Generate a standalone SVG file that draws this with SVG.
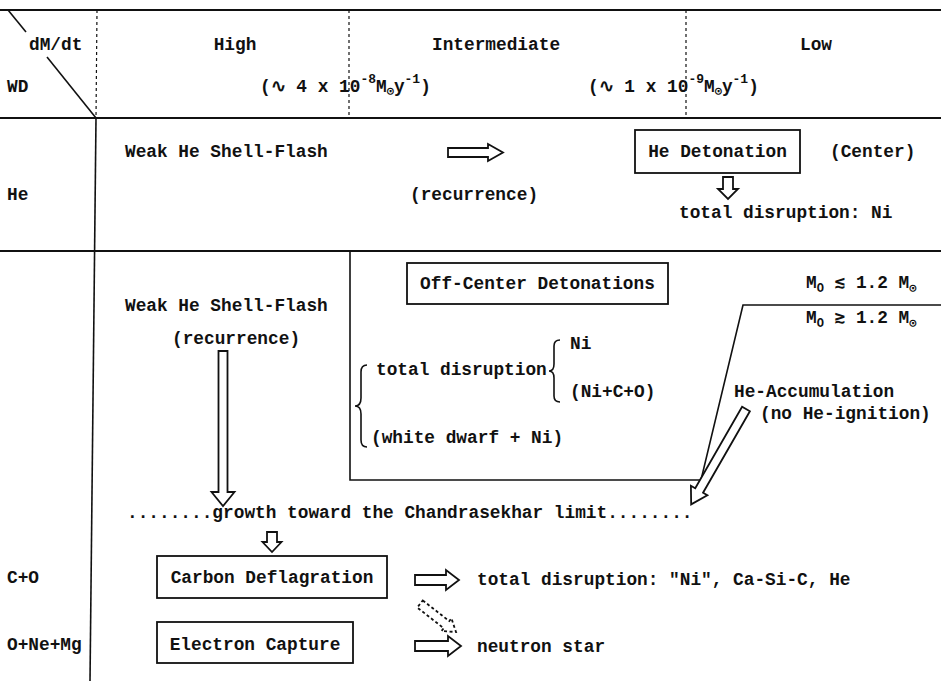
<svg xmlns="http://www.w3.org/2000/svg" width="941" height="681" viewBox="0 0 941 681">
<style>
.t{font-family:"Liberation Mono","DejaVu Sans Mono",monospace;font-size:17.8px;font-weight:bold;fill:#111}
.ln{stroke:#111;stroke-width:1.6;fill:none}
.thick{stroke-width:2.2}
.dot{stroke-dasharray:3 3;stroke-width:1.2}
.box{fill:none;stroke:#111;stroke-width:1.8}
.arr{fill:#fff;stroke:#111;stroke-width:1.8;stroke-linejoin:miter}
.dash{stroke-dasharray:3 2.5}
.sub{font-size:12px}
.sup{font-size:13px}
</style>
<rect width="941" height="681" fill="#fff"/>
<g id="grid">
<line class="ln thick" x1="0" y1="10" x2="941" y2="10"/>
<line class="ln thick" x1="0" y1="118" x2="941" y2="118"/>
<line class="ln thick" x1="0" y1="251" x2="941" y2="251"/>
<line class="ln" x1="8" y1="10" x2="26" y2="32"/>
<line class="ln" x1="47" y1="57" x2="96" y2="118"/>
<line class="ln dot" x1="97" y1="10" x2="96" y2="118"/>
<line class="ln" x1="96" y1="118" x2="90" y2="681"/>
<line class="ln dot" x1="349" y1="10" x2="349" y2="118"/>
<line class="ln dot" x1="686" y1="10" x2="686" y2="118"/>
<polyline class="ln" points="350,251 350,480 701,480 743,305 941,305"/>
</g>
<g id="header">
<text class="t" x="29" y="50">dM/dt</text>
<text class="t" x="7" y="92">WD</text>
<text class="t" x="235" y="50" text-anchor="middle">High</text>
<text class="t" x="432" y="50">Intermediate</text>
<text class="t" x="800" y="50">Low</text>
<text class="t" x="260" y="92">(∿ 4 x 10<tspan class="sup" dy="-9">-8</tspan><tspan dy="9">M</tspan><tspan class="sub" dy="3">⊙</tspan><tspan dy="-3">y</tspan><tspan class="sup" dy="-9">-1</tspan><tspan dy="9">)</tspan></text>
<text class="t" x="588" y="92">(∿ 1 x 10<tspan class="sup" dy="-9">-9</tspan><tspan dy="9">M</tspan><tspan class="sub" dy="3">⊙</tspan><tspan dy="-3">y</tspan><tspan class="sup" dy="-9">-1</tspan><tspan dy="9">)</tspan></text>
</g>
<g id="row-labels">
<text class="t" x="7" y="200">He</text>
<text class="t" x="7" y="583">C+O</text>
<text class="t" x="7" y="650">O+Ne+Mg</text>
</g>
<g id="he-flash"><text class="t" x="125" y="157">Weak He Shell-Flash</text></g>
<g id="he-recurrence"><text class="t" x="410" y="200">(recurrence)</text></g>
<g id="he-detonation">
<rect class="box" x="635" y="130" width="165" height="43"/>
<text class="t" x="717.5" y="157" text-anchor="middle">He Detonation</text>
</g>
<g id="center"><text class="t" x="830" y="157">(Center)</text></g>
<g id="he-disruption"><text class="t" x="679" y="218">total disruption: Ni</text></g>
<g id="co-flash">
<text class="t" x="125" y="311">Weak He Shell-Flash</text>
<text class="t" x="172" y="344">(recurrence)</text>
</g>
<g id="off-center">
<rect class="box" x="407" y="263" width="261" height="41"/>
<text class="t" x="537.5" y="289" text-anchor="middle">Off-Center Detonations</text>
</g>
<g id="outcomes">
<path class="ln" d="M367,365 Q361,365 361,372 L361,398 Q361,406 355,406 Q361,406 361,414 L361,440 Q361,447 367,447"/>
<path class="ln" d="M560,340 Q554,340 554,346 L554,364 Q554,371 549,371 Q554,371 554,378 L554,396 Q554,402 560,402"/>
<text class="t" x="376" y="375">total disruption</text>
<text class="t" x="570" y="349">Ni</text>
<text class="t" x="570" y="397">(Ni+C+O)</text>
<text class="t" x="371" y="443">(white dwarf + Ni)</text>
</g>
<g id="mass-low"><text class="t" x="806" y="288">M<tspan class="sub" dy="4">O</tspan><tspan dy="-4"> ≲ 1.2 M</tspan><tspan class="sub" dy="4">⊙</tspan></text></g>
<g id="mass-high"><text class="t" x="806" y="323">M<tspan class="sub" dy="4">O</tspan><tspan dy="-4"> ≳ 1.2 M</tspan><tspan class="sub" dy="4">⊙</tspan></text></g>
<g id="he-accumulation">
<text class="t" x="734" y="397">He-Accumulation</text>
<text class="t" x="760" y="419">(no He-ignition)</text>
</g>
<g id="growth"><text class="t" x="127" y="518">........growth toward the Chandrasekhar limit........</text></g>
<g id="carbon-deflagration">
<rect class="box" x="157" y="556" width="230" height="42"/>
<text class="t" x="272" y="583" text-anchor="middle">Carbon Deflagration</text>
</g>
<g id="electron-capture">
<rect class="box" x="157" y="622" width="196" height="41"/>
<text class="t" x="255" y="650" text-anchor="middle">Electron Capture</text>
</g>
<g id="co-disruption"><text class="t" x="477" y="585">total disruption: "Ni", Ca-Si-C, He</text></g>
<g id="neutron-star"><text class="t" x="477" y="652">neutron star</text></g>
<g id="connectors">
<path class="arr" transform="translate(448,152.5)" d="M0,-4.5 L40,-4.5 L40,-8.5 L55,0 L40,8.5 L40,4.5 L0,4.5Z"/>
<path class="arr" transform="translate(728,177) rotate(90)" d="M0,-5 L12,-5 L12,-10 L22,0 L12,10 L12,5 L0,5Z"/>
<path class="arr" transform="translate(223,351) rotate(90)" d="M0,-4.5 L141,-4.5 L141,-11.5 L155,0 L141,11.5 L141,4.5 L0,4.5Z"/>
<path class="arr" transform="translate(272,532) rotate(90)" d="M0,-5 L10,-5 L10,-9.5 L20,0 L10,9.5 L10,5 L0,5Z"/>
<path class="arr" transform="translate(415,580)" d="M0,-5 L31,-5 L31,-10 L44,0 L31,10 L31,5 L0,5Z"/>
<path class="arr" transform="translate(415,646)" d="M0,-5 L33,-5 L33,-10 L46,0 L33,10 L33,5 L0,5Z"/>
<path class="arr dash" transform="translate(420,604) rotate(37.9)" d="M0,-4.5 L33.6,-4.5 L33.6,-8 L45.6,0 L33.6,8 L33.6,4.5 L0,4.5Z"/>
<path class="arr" transform="translate(746,409) rotate(119.9)" d="M0,-4.5 L94,-4.5 L94,-9.5 L110,0 L94,9.5 L94,4.5 L0,4.5Z"/>
</g>
</svg>
